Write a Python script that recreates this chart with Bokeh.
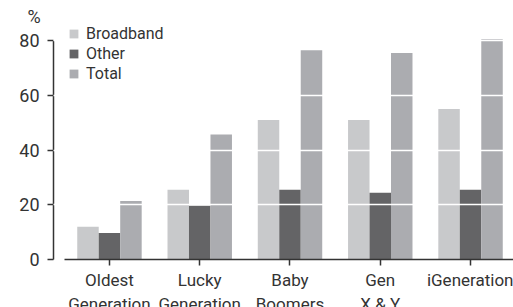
from bokeh.plotting import figure
from bokeh.models import Range1d, FixedTicker, Legend, LegendItem, ColumnDataSource
from bokeh.transform import dodge
from bokeh.embed import file_html
from bokeh.resources import INLINE

categories = ["Oldest\nGeneration", "Lucky\nGeneration", "Baby\nBoomers", "Gen\nX & Y", "iGeneration"]
broadband = [12, 25.5, 51, 51, 55]
other = [9.7, 19.6, 25.5, 24.4, 25.5]
total = [21.4, 45.7, 76.5, 75.5, 80.5]
series_names = ["Broadband", "Other", "Total"]
y_ticks = [0, 20, 40, 60, 80]
unit_label = "%"

colors = ["#c8c9cb", "#646466", "#abacb0"]
FONT = "Roboto"
TXT = "#333333"

idx = list(range(len(categories)))
src = ColumnDataSource(dict(idx=idx, broadband=broadband, other=other, total=total))

x_start, x_end = -0.62, len(categories) - 0.524
p = figure(width=513, height=316, output_backend="svg", toolbar_location=None,
           x_range=Range1d(x_start, x_end), y_range=Range1d(0, 86.6),
           min_border_left=53, min_border_right=0, min_border_top=22, min_border_bottom=40)
p.outline_line_color = None
p.background_fill_color = None
p.border_fill_color = None

p.title.text = unit_label
p.title.align = "left"
p.title.offset = -26
p.title.text_font = FONT
p.title.text_font_size = "18px"
p.title.text_font_style = "normal"
p.title.text_color = TXT
p.title.standoff = -9

bw = 0.238
renderers = []
for off, col, c in zip([-bw, 0, bw], ["broadband", "other", "total"], colors):
    r = p.vbar(x=dodge("idx", off), top=col, width=bw, source=src,
               fill_color=c, line_color=None)
    renderers.append(r)

p.xgrid.visible = False
p.ygrid.ticker = FixedTicker(ticks=[t for t in y_ticks if t > 0])
p.ygrid.grid_line_color = "white"
p.ygrid.grid_line_width = 1.5
p.ygrid.level = "overlay"

ya = p.yaxis[0]
ya.ticker = FixedTicker(ticks=y_ticks)
ya.bounds = (0, 80)
ya.axis_line_color = TXT
ya.axis_line_width = 1.5
ya.major_tick_line_color = TXT
ya.major_tick_line_width = 1.5
ya.major_tick_out = 6
ya.major_tick_in = 0
ya.minor_tick_line_color = None
ya.major_label_text_font = FONT
ya.major_label_text_font_size = "18px"
ya.major_label_text_color = TXT
ya.major_label_standoff = 8

xa = p.xaxis[0]
xa.ticker = FixedTicker(ticks=idx)
xa.major_label_overrides = {i: c for i, c in zip(idx, categories)}
xa.bounds = (-0.5, x_end)
xa.axis_line_color = TXT
xa.axis_line_width = 1.5
xa.major_tick_line_color = TXT
xa.major_tick_line_width = 1.5
xa.major_tick_out = 6
xa.major_tick_in = 0
xa.minor_tick_line_color = None
xa.major_label_text_font = FONT
xa.major_label_text_font_size = "17px"
xa.major_label_text_color = TXT
xa.major_label_standoff = 4

legend = Legend(items=[LegendItem(label=n, renderers=[r]) for n, r in zip(series_names, renderers)],
                location=(15, 176), glyph_width=11, glyph_height=11, label_height=20,
                spacing=0, padding=0, margin=0, label_standoff=7,
                label_text_font=FONT, label_text_font_size="16px", label_text_color=TXT,
                border_line_color=None, background_fill_alpha=0)
p.add_layout(legend)

open("out.html", "w").write(file_html(p, INLINE))
